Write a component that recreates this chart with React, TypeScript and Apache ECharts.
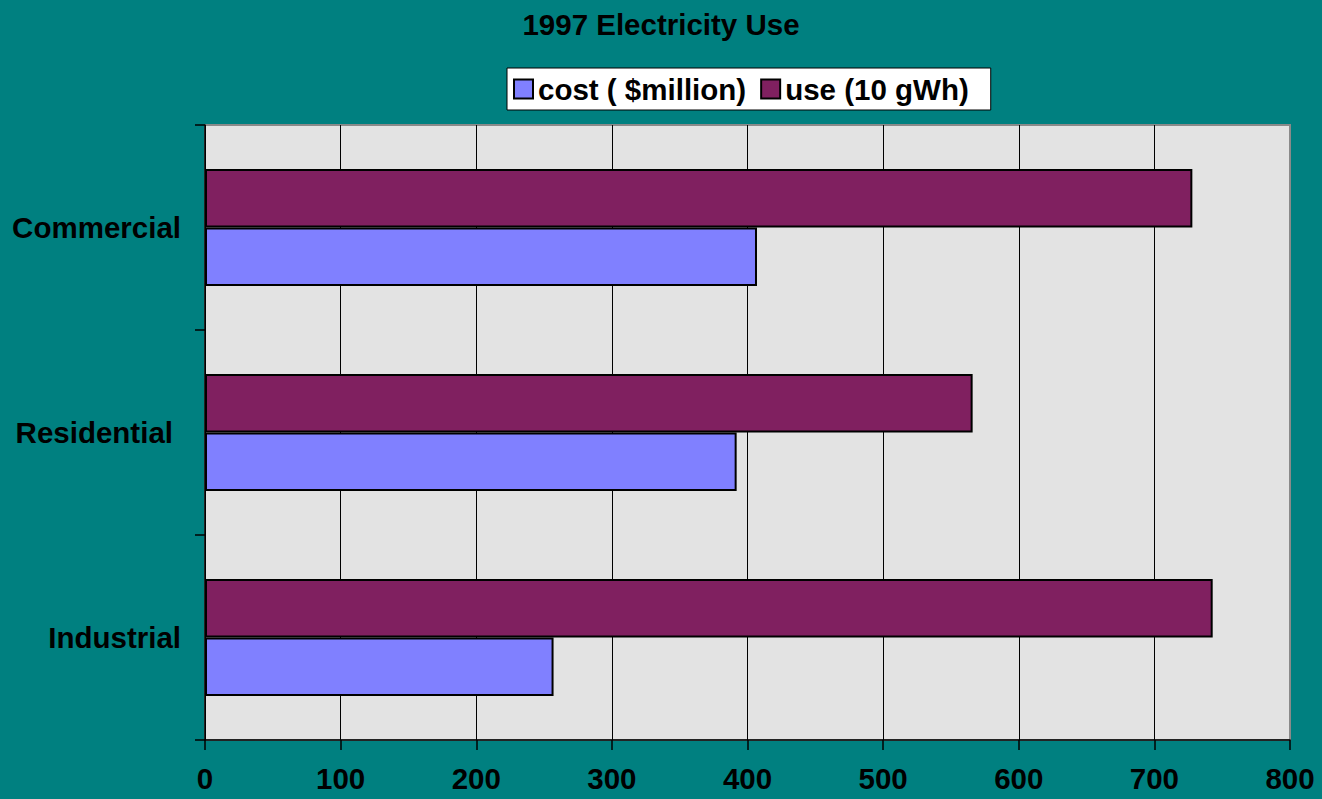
import React, { useEffect, useRef } from "react";
import * as echarts from "echarts";

const categories = ["Industrial", "Residential", "Commercial"];
const costValues = [257, 392, 407];
const useValues = [743, 566, 728];
const seriesNames = ["cost ( $million)", "use (10 gWh)"];
const xTicks = { min: 0, max: 800, interval: 100 };

const FONT = "'Liberation Sans', Arial, sans-serif";
const FS = 29.5;

export default function App() {
  const ref = useRef<HTMLDivElement>(null);
  useEffect(() => {
    if (!ref.current) return;
    const chart = echarts.init(ref.current, undefined, { renderer: "svg" });
    chart.setOption({
      animation: false,
      backgroundColor: "#008080",
      textStyle: { fontFamily: FONT },
      title: {
        text: "1997 Electricity Use",
        left: "center",
        top: 4,
        textStyle: { fontFamily: FONT, fontSize: FS, fontWeight: "bold", color: "#000" },
      },
      legend: {
        left: 507,
        top: 68,
        data: seriesNames,
        backgroundColor: "#ffffff",
        borderColor: "#000000",
        borderWidth: 1,
        borderRadius: 0,
        padding: [6, 22, 6, 6],
        itemWidth: 19,
        itemHeight: 19,
        itemGap: 14,
        icon: "rect",
        textStyle: { fontFamily: FONT, fontSize: FS, fontWeight: "bold", color: "#000" },
      },
      grid: {
        left: 205,
        right: 32,
        top: 125,
        bottom: 59,
        show: true,
        backgroundColor: "#E3E3E3",
        borderColor: "#8a8a8a",
        borderWidth: 2,
      },
      xAxis: {
        type: "value",
        min: xTicks.min,
        max: xTicks.max,
        interval: xTicks.interval,
        axisLine: { show: true, lineStyle: { color: "#000", width: 1.5 } },
        axisTick: { show: true, length: 10, lineStyle: { color: "#000", width: 1.5 } },
        axisLabel: { margin: 23, fontFamily: FONT, fontSize: FS, fontWeight: "bold", color: "#000" },
        splitLine: { show: true, showMaxLine: false, lineStyle: { color: "#000", width: 1 } },
      },
      yAxis: {
        type: "category",
        data: categories.map((c) =>
          c === "Residential" ? { value: c, textStyle: { padding: [0, 8, 0, 0] } } : c
        ),
        axisLine: { show: true, lineStyle: { color: "#000", width: 1.5 } },
        axisTick: { show: true, length: 10, lineStyle: { color: "#000", width: 1.5 } },
        axisLabel: { margin: 24, fontFamily: FONT, fontSize: FS, fontWeight: "bold", color: "#000" },
        splitLine: { show: false },
      },
      series: [
        {
          name: seriesNames[1],
          type: "bar",
          data: useValues,
          barGap: "0%",
          barCategoryGap: "43%",
          itemStyle: { color: "#802060", borderColor: "#000", borderWidth: 2 },
        },
        {
          name: seriesNames[0],
          type: "bar",
          data: costValues,
          barGap: "0%",
          barCategoryGap: "43%",
          itemStyle: { color: "#8080FF", borderColor: "#000", borderWidth: 2 },
        },
      ],
    });
    return () => chart.dispose();
  }, []);
  return (
    <div
      ref={ref}
      style={{ position: "fixed", left: 0, top: 0, width: 1322, height: 799 }}
    />
  );
}
